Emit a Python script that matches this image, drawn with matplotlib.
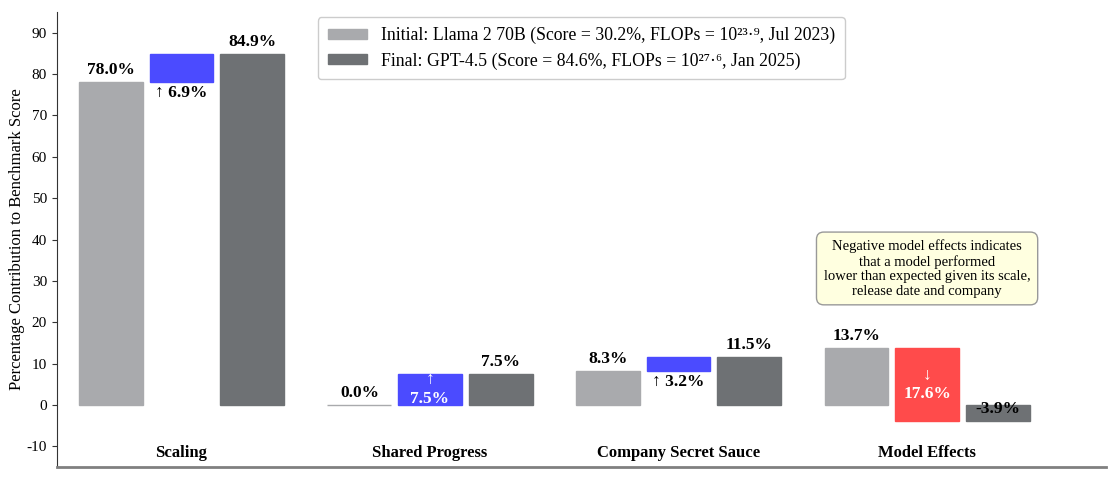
import numpy as np
import matplotlib
matplotlib.use('Agg')
import matplotlib.pyplot as plt
from matplotlib.patches import Patch

plt.rcParams['font.family'] = ['Liberation Serif', 'DejaVu Serif']
plt.rcParams['axes.unicode_minus'] = False

categories = ['Scaling', 'Shared Progress', 'Company Secret Sauce', 'Model Effects']
initial = [78.0, 0.0, 8.3, 13.7]
change = [6.9, 7.5, 3.2, -17.6]
final = [84.9, 7.5, 11.5, -3.9]

initial_label = 'Initial: Llama 2 70B (Score = 30.2%, FLOPs = 10²³·⁹, Jul 2023)'
final_label = 'Final: GPT-4.5 (Score = 84.6%, FLOPs = 10²⁷·⁶, Jan 2025)'
note = ('Negative model effects indicates\nthat a model performed\n'
        'lower than expected given its scale,\nrelease date and company')

c_init = '#a9aaad'
c_final = '#6e7174'
c_up = '#4b4bff'
c_down = '#ff4b4b'

fig = plt.figure(figsize=(11.18, 4.79), dpi=100)
ax = fig.add_axes([0.0507, 0.025, 0.9386, 0.95])

x = np.arange(len(categories))
w = 0.257
off = 0.284

ax.bar(x - off, initial, w, color=c_init, edgecolor=c_init, linewidth=1)
ax.bar(x + off, final, w, color=c_final, edgecolor=c_final, linewidth=1)
chg_colors = [c_up if c >= 0 else c_down for c in change]
ax.bar(x, change, w, bottom=initial, color=chg_colors, edgecolor=chg_colors, linewidth=1)

for i in range(len(categories)):
    ax.text(x[i] - off, initial[i] + 1, f'{initial[i]:.1f}%', ha='center', va='bottom',
            fontsize=12.5, fontweight='bold')
    ax.text(x[i] + off, final[i] + 1, f'{final[i]:.1f}%', ha='center', va='bottom',
            fontsize=12.5, fontweight='bold')
    c = change[i]
    arrow = '↑' if c >= 0 else '↓'
    if abs(c) > 7:
        # tall enough: label inside the bar
        ax.text(x[i], initial[i] + c / 2, f'{arrow}\n{abs(c):.1f}%', ha='center', va='center',
                fontsize=12.5, fontweight='bold', color='white', linespacing=1.2)
    else:
        ax.text(x[i], min(initial[i], initial[i] + c) - 0.7, f'{arrow} {abs(c):.1f}%',
                ha='center', va='top', fontsize=12.5, fontweight='bold')
    ax.text(x[i], -11.5, categories[i], ha='center', va='center', fontsize=12, fontweight='bold')

ax.text(3, 33, note, ha='center', va='center', fontsize=10.5, linespacing=1.15,
        bbox=dict(boxstyle='round,pad=0.5', fc='#ffffe0', ec='#999999', lw=1))

handles = [Patch(color=c_init), Patch(color=c_final)]
ax.legend(handles, [initial_label, final_label], loc='upper center', fontsize=12.8,
          handlelength=2.2, handleheight=0.5, framealpha=1, edgecolor='#cccccc',
          labelspacing=0.45, borderpad=0.55, borderaxespad=0.3)

ax.set_xlim(-0.502, 3.72)
ax.set_ylim(-15, 95)
ax.set_yticks(np.arange(-10, 91, 10))
ax.set_xticks([])
ax.tick_params(axis='y', labelsize=11, length=3.5, color='#333333')
ax.set_ylabel('Percentage Contribution to Benchmark Score', fontsize=12, labelpad=1)
ax.spines['top'].set_visible(False)
ax.spines['right'].set_visible(False)
ax.spines['left'].set_color('#333333')
ax.spines['bottom'].set_color('#808080')
ax.spines['bottom'].set_linewidth(2)

plt.savefig('out.png', dpi=100)
